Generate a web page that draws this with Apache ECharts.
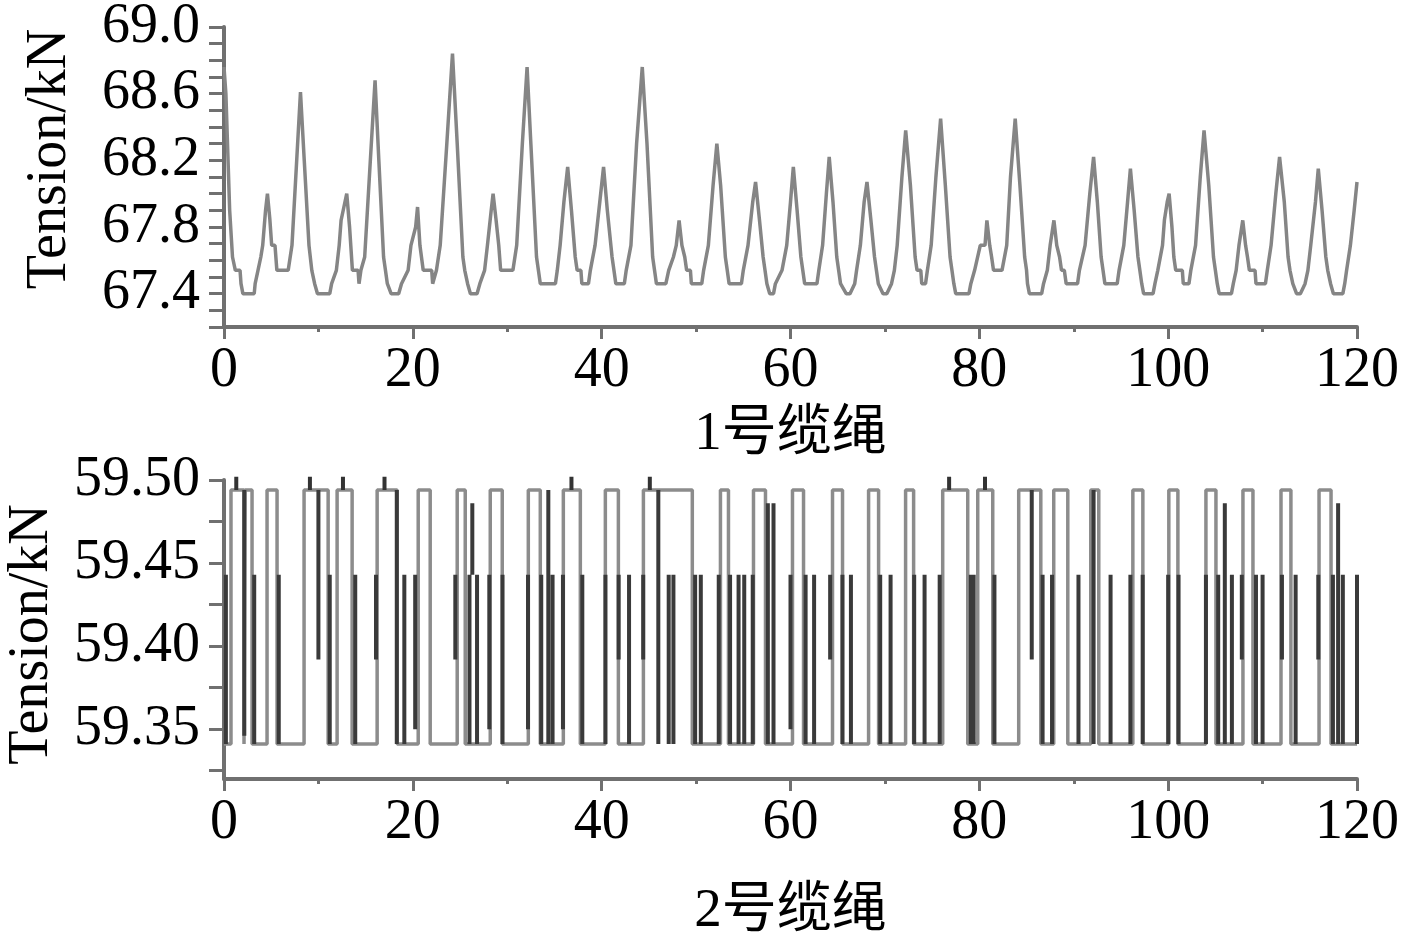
<!DOCTYPE html>
<html>
<head>
<meta charset="utf-8">
<script src="https://cdn.jsdelivr.net/npm/echarts@6/dist/echarts.min.js"></script>
<style>
html,body{margin:0;padding:0;background:#fff;}
#chart{width:1417px;height:936px;}
</style>
</head>
<body>
<div id="chart"></div>
<script>
// 1号缆绳: vertices of the tension trace (time s, tension kN)
var rope1Time = [
  0, 0.2, 0.6, 0.9, 1.2, 1.7, 1.8, 2.0, 3.2, 3.3, 3.6,
  3.9, 4.1, 4.4, 4.6, 4.85, 5.05, 5.4, 5.6, 6.8,
  7.2, 7.7, 8.1, 8.5, 9.0, 9.3, 9.6, 9.9, 11.2, 11.4, 11.9,
  12.2, 12.4, 12.7, 13.0, 13.3, 13.6, 14.2, 14.3, 14.5,
  14.9, 15.5, 16.0, 16.4, 16.9, 17.1, 17.3, 17.7, 18.5, 18.8, 19.5,
  19.8, 20.3, 20.5, 20.75, 21.1, 22.0, 22.1, 22.5,
  22.9, 23.6, 24.2, 24.7, 25.3, 25.5, 25.8, 26.1, 26.8, 27.1, 27.6,
  27.9, 28.3, 28.5, 28.8, 29.1, 29.3, 30.6,
  31.0, 31.6, 32.1, 32.5, 33.1, 33.3, 33.5, 35.1, 35.3,
  35.6, 36.0, 36.4, 36.8, 37.2, 37.4, 37.8, 37.9, 38.6, 38.8,
  39.3, 39.8, 40.2, 40.6, 41.1, 41.3, 41.5, 42.4, 42.6,
  43.1, 43.7, 44.3, 44.8, 45.4, 45.6, 45.8, 46.8, 47.1,
  47.6, 47.9, 48.2, 48.5, 48.8, 49.0, 49.4, 49.5, 50.6, 50.8,
  51.3, 51.8, 52.2, 52.6, 53.1, 53.3, 53.5, 54.8, 55.0,
  55.5, 56.0, 56.3, 56.7, 57.1, 57.3, 57.5, 57.8, 58.2, 58.4, 59.1,
  59.6, 60.0, 60.3, 60.7, 61.1, 61.3, 61.5, 62.8, 63.0,
  63.4, 63.8, 64.1, 64.5, 64.9, 65.1, 65.3, 65.9, 66.3, 66.8, 67.0,
  67.4, 67.8, 68.1, 68.5, 68.9, 69.1, 69.3, 69.8, 70.2, 70.7, 71.0,
  71.3, 71.8, 72.2, 72.7, 73.2, 73.4, 73.8, 73.9, 74.3, 74.5,
  74.9, 75.4, 75.9, 76.4, 76.9, 77.1, 77.3, 77.5, 78.9, 79.1, 79.5,
  80.1, 80.6, 80.8, 81.1, 81.3, 81.5, 82.4,
  82.9, 83.3, 83.8, 84.3, 84.8, 85.0, 85.1, 85.3, 86.6, 86.8, 87.2,
  87.5, 87.9, 88.2, 88.5, 88.7, 89.0, 89.2, 90.4, 90.6,
  91.2, 91.7, 92.1, 92.5, 92.9, 93.1, 93.3, 94.6, 94.8,
  95.3, 95.7, 96.0, 96.4, 96.8, 97.0, 97.2, 97.4, 98.4, 98.6, 98.9,
  99.4, 99.6, 99.9, 100.1, 100.4, 100.6, 100.8, 101.5, 101.6, 102.2, 102.4,
  102.9, 103.4, 103.8, 104.3, 104.8, 105.0, 105.2, 105.4, 106.7, 106.9, 107.2,
  107.5, 107.9, 108.2, 108.4, 108.6, 109.2, 109.3, 110.3, 110.5,
  110.9, 111.4, 111.8, 112.3, 112.7, 112.9, 113.2, 113.6, 114.0, 114.5, 114.8,
  115.1, 115.6, 115.9, 116.3, 116.7, 116.9, 117.2, 117.5, 118.5, 118.7, 118.9,
  119.3, 119.7, 120.0
];
var rope1Tension = [
  68.76, 68.6, 67.9, 67.62, 67.54, 67.54, 67.46, 67.40, 67.40, 67.46, 67.54,
  67.62, 67.69, 67.9, 68.0, 67.85, 67.69, 67.69, 67.54, 67.54,
  67.69, 68.2, 68.61, 68.2, 67.69, 67.54, 67.46, 67.40, 67.40, 67.46, 67.54,
  67.69, 67.84, 67.92, 68.0, 67.8, 67.54, 67.54, 67.46, 67.54,
  67.62, 68.2, 68.68, 68.2, 67.62, 67.54, 67.46, 67.40, 67.40, 67.46, 67.54,
  67.69, 67.8, 67.92, 67.69, 67.54, 67.54, 67.46, 67.54,
  67.69, 68.3, 68.84, 68.3, 67.62, 67.54, 67.46, 67.40, 67.40, 67.46, 67.54,
  67.69, 67.9, 68.0, 67.85, 67.69, 67.54, 67.54,
  67.69, 68.3, 68.76, 68.3, 67.62, 67.54, 67.46, 67.46, 67.54,
  67.69, 67.95, 68.16, 67.9, 67.62, 67.54, 67.54, 67.46, 67.46, 67.54,
  67.69, 67.95, 68.16, 67.9, 67.62, 67.54, 67.46, 67.46, 67.54,
  67.69, 68.3, 68.76, 68.3, 67.62, 67.54, 67.46, 67.46, 67.54,
  67.62, 67.69, 67.84, 67.69, 67.62, 67.54, 67.54, 67.46, 67.46, 67.54,
  67.69, 68.05, 68.30, 68.05, 67.62, 67.54, 67.46, 67.46, 67.54,
  67.69, 67.95, 68.07, 67.85, 67.62, 67.54, 67.46, 67.40, 67.40, 67.46, 67.54,
  67.69, 67.95, 68.16, 67.9, 67.62, 67.54, 67.46, 67.46, 67.54,
  67.69, 68.0, 68.22, 67.95, 67.62, 67.54, 67.46, 67.40, 67.40, 67.46, 67.54,
  67.69, 67.95, 68.07, 67.85, 67.62, 67.54, 67.46, 67.40, 67.40, 67.46, 67.54,
  67.69, 68.1, 68.38, 68.05, 67.62, 67.54, 67.54, 67.46, 67.46, 67.54,
  67.69, 68.1, 68.45, 68.05, 67.62, 67.54, 67.46, 67.40, 67.40, 67.46, 67.54,
  67.69, 67.69, 67.84, 67.69, 67.62, 67.54, 67.54,
  67.69, 68.1, 68.45, 68.05, 67.62, 67.54, 67.46, 67.40, 67.40, 67.46, 67.54,
  67.69, 67.84, 67.69, 67.62, 67.54, 67.54, 67.46, 67.46, 67.54,
  67.69, 68.0, 68.22, 67.95, 67.62, 67.54, 67.46, 67.46, 67.54,
  67.69, 67.95, 68.15, 67.9, 67.62, 67.54, 67.46, 67.40, 67.40, 67.46, 67.54,
  67.69, 67.84, 67.95, 68.0, 67.8, 67.62, 67.54, 67.54, 67.46, 67.46, 67.54,
  67.69, 68.1, 68.38, 68.05, 67.62, 67.54, 67.46, 67.40, 67.40, 67.46, 67.54,
  67.69, 67.84, 67.69, 67.62, 67.54, 67.54, 67.46, 67.46, 67.54,
  67.69, 68.0, 68.22, 67.95, 67.62, 67.54, 67.46, 67.40, 67.40, 67.46, 67.54,
  67.69, 67.95, 68.15, 67.9, 67.62, 67.54, 67.46, 67.40, 67.40, 67.46, 67.54,
  67.69, 67.9, 68.07
];

// 2号缆绳: high plateaus (on/off times, s), plateau and floor levels (kN)
var rope2Floor = 59.341;
var rope2High = 59.494;
var rope2PulseOn = [0.74, 2.23, 4.56, 8.48, 11.98, 16.22, 20.57, 24.7, 28.2, 32.23,
  35.94, 40.39, 44.42, 52.58, 56.08, 60.21, 64.45, 68.27, 72.19, 76.12,
  79.83, 84.17, 87.88, 91.8, 96.26, 100.07, 104.0, 107.92, 111.95, 115.98];
var rope2PulseOff = [2.12, 2.97, 5.62, 11.03, 13.57, 18.34, 21.84, 25.55, 29.47, 33.5,
  37.74, 41.77, 49.6, 53.43, 57.35, 61.38, 65.51, 69.33, 73.04, 78.77,
  81.42, 86.51, 89.37, 92.65, 97.32, 101.03, 105.06, 108.98, 113.0, 117.25];

// 2号缆绳: fast jumps drawn as dark strokes (time, low, high)
var rope2SpikeTime = [0.2, 2.15, 3.2, 5.8, 10.0, 11.2, 13.9, 16.1, 18.3, 19.1,
  20.25, 24.5, 26.0, 26.3, 26.8, 28.1, 29.5, 32.2, 33.6, 34.35,
  34.8, 35.9, 37.95, 40.4, 41.8, 42.9, 44.4, 46.0, 47.1, 47.6,
  49.9, 50.5, 52.4, 53.6, 54.5, 55.1, 56.0, 57.6, 58.2, 60.0,
  61.6, 62.5, 64.2, 65.5, 66.4, 69.5, 70.6, 73.1, 74.2, 75.8,
  79.1, 79.4, 81.6, 85.55, 86.7, 87.7, 90.5, 92.1, 93.9, 96.0,
  97.3, 100.0, 101.1, 104.0, 105.3, 106.0, 106.75, 107.8, 109.3, 110.0,
  112.05, 113.5, 115.9, 117.45, 118.0, 118.5, 120.0];
var rope2SpikeLow = [59.341, 59.346, 59.341, 59.341, 59.392, 59.341, 59.341, 59.392, 59.341, 59.341,
  59.35, 59.392, 59.341, 59.443, 59.341, 59.35, 59.341, 59.35, 59.341, 59.341,
  59.341, 59.35, 59.341, 59.341, 59.392, 59.341, 59.392, 59.341, 59.341, 59.341,
  59.341, 59.341, 59.341, 59.341, 59.341, 59.341, 59.341, 59.341, 59.341, 59.35,
  59.341, 59.341, 59.392, 59.341, 59.341, 59.341, 59.341, 59.341, 59.341, 59.341,
  59.341, 59.341, 59.341, 59.392, 59.341, 59.341, 59.341, 59.341, 59.341, 59.341,
  59.341, 59.341, 59.341, 59.341, 59.341, 59.341, 59.341, 59.392, 59.341, 59.341,
  59.392, 59.341, 59.392, 59.341, 59.341, 59.341, 59.341];
var rope2SpikeHigh = [59.443, 59.494, 59.443, 59.443, 59.494, 59.443, 59.443, 59.443, 59.494, 59.443,
  59.443, 59.443, 59.443, 59.486, 59.443, 59.443, 59.443, 59.443, 59.443, 59.494,
  59.443, 59.443, 59.443, 59.443, 59.443, 59.443, 59.443, 59.494, 59.443, 59.443,
  59.443, 59.443, 59.443, 59.443, 59.443, 59.443, 59.443, 59.486, 59.486, 59.443,
  59.443, 59.443, 59.443, 59.443, 59.443, 59.443, 59.443, 59.443, 59.443, 59.443,
  59.443, 59.443, 59.443, 59.494, 59.443, 59.443, 59.443, 59.494, 59.443, 59.443,
  59.443, 59.443, 59.443, 59.443, 59.443, 59.486, 59.443, 59.443, 59.443, 59.443,
  59.443, 59.443, 59.443, 59.443, 59.486, 59.443, 59.443];
// short blips above the plateau
var rope2CapTime = [1.3, 9.1, 12.6, 17.0, 36.8, 45.1, 76.8, 80.6];
var rope2CapTop = 59.502;

// axes
var xLabels = [0, 20, 40, 60, 80, 100, 120];
var y1Ticks = [67.2, 67.3, 67.4, 67.5, 67.6, 67.7, 67.8, 67.9, 68.0, 68.1,
  68.2, 68.3, 68.4, 68.5, 68.6, 68.7, 68.8, 68.9, 69.0];
var y1Labels = [67.4, 67.8, 68.2, 68.6, 69.0];
var y2Ticks = [59.325, 59.35, 59.375, 59.4, 59.425, 59.45, 59.475, 59.5];
var y2Labels = [59.35, 59.4, 59.45, 59.5];

var serif = "'Liberation Serif', 'Noto Sans CJK SC', serif";
var axisGray = '#707070';

// build line data from the arrays
var rope1Data = rope1Time.map(function (t, i) { return [t, rope1Tension[i]]; });

var pulseData = [[0, rope2Floor]];
rope2PulseOn.forEach(function (on, i) {
  var off = rope2PulseOff[i];
  pulseData.push([on, rope2Floor], [on, rope2High], [off, rope2High], [off, rope2Floor]);
});
pulseData.push([120, rope2Floor]);

var spikeData = [];
rope2SpikeTime.forEach(function (t, i) {
  spikeData.push([t, rope2SpikeLow[i]], [t, rope2SpikeHigh[i]], [t, null]);
});
var capData = [];
rope2CapTime.forEach(function (t) {
  capData.push([t, rope2High], [t, rope2CapTop], [t, null]);
});

function xAxisOpt(gridIndex, name, gap) {
  return {
    type: 'value', gridIndex: gridIndex, min: 0, max: 120, interval: 20,
    name: name, nameLocation: 'middle', nameGap: gap,
    nameTextStyle: {fontFamily: serif, fontSize: 55, color: '#000'},
    axisLine: {lineStyle: {color: axisGray, width: 4}},
    axisTick: {length: 12, lineStyle: {color: axisGray, width: 3}},
    minorTick: {show: true, splitNumber: 2, length: 5, lineStyle: {color: axisGray, width: 3}},
    axisLabel: {fontFamily: serif, fontSize: 56, color: '#000', margin: 16,
      customValues: xLabels},
    splitLine: {show: false}
  };
}

function yAxisOpt(gridIndex, min, max, ticks, labels, digits, gap, pad) {
  return {
    type: 'value', gridIndex: gridIndex, min: min, max: max,
    name: 'Tension/kN', nameLocation: 'middle', nameGap: gap,
    nameTextStyle: {fontFamily: serif, fontSize: 56, color: '#000', padding: pad},
    axisLine: {show: true, lineStyle: {color: axisGray, width: 4}},
    axisTick: {show: true, length: 15, customValues: ticks, lineStyle: {color: axisGray, width: 3}},
    axisLabel: {fontFamily: serif, fontSize: 56, color: '#000', margin: 24,
      customValues: labels,
      formatter: function (v) { return v.toFixed(digits); }},
    splitLine: {show: false}
  };
}

var chart = echarts.init(document.getElementById('chart'));
chart.setOption({
  animation: false,
  backgroundColor: '#fff',
  grid: [
    {left: 224, right: 60, top: 27, height: 300, outerBoundsMode: 'none'},
    {left: 224, right: 60, top: 480, height: 299, outerBoundsMode: 'none'}
  ],
  xAxis: [xAxisOpt(0, '1号缆绳', 80), xAxisOpt(1, '2号缆绳', 105)],
  yAxis: [
    yAxisOpt(0, 67.2, 69.0, y1Ticks, y1Labels, 1, 146, [0, 0, 0, 36]),
    yAxisOpt(1, 59.32, 59.5, y2Ticks, y2Labels, 2, 164, [0, 10, 0, 0])
  ],
  series: [
    {
      type: 'line', xAxisIndex: 0, yAxisIndex: 0, data: rope1Data,
      showSymbol: false, silent: true,
      lineStyle: {color: '#858585', width: 3.5}
    },
    {
      type: 'line', xAxisIndex: 1, yAxisIndex: 1, data: pulseData,
      showSymbol: false, silent: true,
      lineStyle: {color: '#8c8c8c', width: 3.5}
    },
    {
      type: 'line', xAxisIndex: 1, yAxisIndex: 1, data: spikeData,
      showSymbol: false, silent: true, connectNulls: false,
      lineStyle: {color: '#3a3a3a', width: 4}
    },
    {
      type: 'line', xAxisIndex: 1, yAxisIndex: 1, data: capData,
      showSymbol: false, silent: true, connectNulls: false, clip: false,
      lineStyle: {color: '#333', width: 4}
    }
  ]
});
</script>
</body>
</html>
